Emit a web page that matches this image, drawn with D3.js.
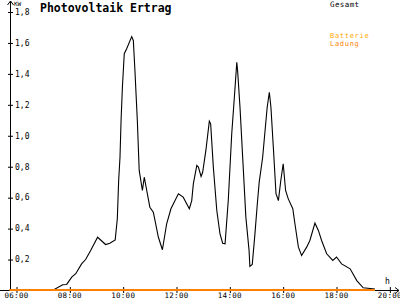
<!DOCTYPE html>
<html>
<head>
<meta charset="utf-8">
<script src="https://cdn.jsdelivr.net/npm/d3@7"></script>
<style>
  body { margin: 0; background: #fff; }
  svg { display: block; font-family: "DejaVu Sans Mono", monospace; }
</style>
</head>
<body>
<div id="chart"></div>
<script>
// Hours of the day (decimal) and total yield in kW
var hours = [5.75, 7.4, 7.75, 7.9, 8.09, 8.24, 8.46, 8.61, 8.8, 9.06, 9.36, 9.52, 9.72, 9.8, 9.85, 9.9, 9.94, 9.99,
  10.06, 10.15, 10.34, 10.4, 10.46, 10.55, 10.62, 10.74, 10.81, 10.88, 11.02, 11.15, 11.34, 11.49, 11.65, 11.81,
  12.09, 12.27, 12.5, 12.59, 12.65, 12.78, 12.84, 12.94, 13.0, 13.12, 13.25, 13.3, 13.4, 13.53, 13.65, 13.75, 13.84,
  13.96, 14.09, 14.18, 14.28, 14.31, 14.4, 14.52, 14.62, 14.74, 14.77, 14.86, 14.96, 15.05, 15.12, 15.25, 15.34,
  15.42, 15.5, 15.56, 15.65, 15.75, 15.84, 15.93, 16.02, 16.11, 16.21, 16.38, 16.46, 16.59, 16.71, 16.9, 17.02,
  17.21, 17.34, 17.46, 17.65, 17.88, 18.02, 18.21, 18.53, 18.78, 19.02, 19.46];
var gesamt = [0, 0, 0.034, 0.036, 0.083, 0.105, 0.169, 0.197, 0.255, 0.341, 0.294, 0.302, 0.324, 0.462, 0.708, 0.858, 1.096, 1.311,
  1.527, 1.559, 1.638, 1.613, 1.419, 1.096, 0.773, 0.643, 0.729, 0.664, 0.535, 0.503, 0.341, 0.26, 0.428, 0.525,
  0.622, 0.6, 0.525, 0.578, 0.686, 0.805, 0.794, 0.734, 0.761, 0.902, 1.091, 1.074, 0.794, 0.514, 0.363, 0.302, 0.299,
  0.578, 1.01, 1.225, 1.472, 1.419, 1.181, 0.794, 0.471, 0.255, 0.152, 0.165, 0.363, 0.557, 0.697, 0.858, 1.031,
  1.181, 1.278, 1.181, 0.923, 0.622, 0.578, 0.708, 0.816, 0.643, 0.589, 0.525, 0.428, 0.277, 0.223, 0.277, 0.32,
  0.432, 0.385, 0.32, 0.234, 0.191, 0.213, 0.169, 0.137, 0.061, 0.014, 0.006];

// Battery charge series (stays at zero)
var batterieHours = [5.75, 19.46];
var batterieLadung = [0, 0];

var xTicks = [6, 8, 10, 12, 14, 16, 18, 20];
var yTicks = [0.2, 0.4, 0.6, 0.8, 1.0, 1.2, 1.4, 1.6, 1.8];

var svgWidth = 400, svgHeight = 300;

var svg = d3.select("#chart")
  .append("svg")
  .attr("width", svgWidth)
  .attr("height", svgHeight);

var x = d3.scaleLinear().domain([6, 20]).range([16, 389.33]);
var y = d3.scaleLinear().domain([0, 1.8]).range([290, 11.5]);

// axis lines with arrows
svg.append("path")
  .attr("d", "M0,290.5H399 M395,287.5L399,290.5L395,293.5")
  .attr("fill", "none")
  .attr("stroke", "#000");
svg.append("path")
  .attr("d", "M10.5,291V1 M7.5,5L10.5,1L13.5,5")
  .attr("fill", "none")
  .attr("stroke", "#000");

// x ticks
var xAxis = svg.append("g")
  .attr("transform", "translate(0,290)")
  .call(d3.axisBottom(x).tickValues(xTicks).tickFormat(d => d3.format("02d")(d) + ":00"));
xAxis.select(".domain").remove();
xAxis.selectAll("line").attr("y1", -3).attr("y2", 3).attr("stroke", "#000").attr("transform", "translate(0.5,0)");
xAxis.selectAll("text")
  .attr("y", 7.8)
  .attr("dy", 0)
  .attr("font-size", 7.5)
  .attr("letter-spacing", 0.3)
  .attr("font-family", "DejaVu Sans Mono")
  .attr("fill", "#000");

// y ticks
var yAxis = svg.append("g")
  .attr("transform", "translate(10,0)")
  .call(d3.axisLeft(y).tickValues(yTicks).tickFormat(d => d3.format(".1f")(d).replace(".", ",")));
yAxis.select(".domain").remove();
yAxis.selectAll("line").attr("x1", -2).attr("x2", 3).attr("stroke", "#000").attr("transform", "translate(0,0.5)");
yAxis.selectAll("text")
  .attr("x", 5)
  .attr("dy", "0.35em")
  .attr("text-anchor", "start")
  .attr("font-size", 8)
  .attr("font-family", "DejaVu Sans Mono")
  .attr("fill", "#000");

// unit labels
svg.append("text").attr("x", 14).attr("y", 6).attr("font-size", 6).text("KW");
svg.append("text").attr("x", 385).attr("y", 284).attr("font-size", 8).text("h");

// title
svg.append("text")
  .attr("x", 40).attr("y", 11.5)
  .attr("font-size", 11.5)
  .attr("font-weight", "bold")
  .text("Photovoltaik Ertrag");

// legend
svg.append("text").attr("x", 330).attr("y", 7).attr("font-size", 7.5)
  .attr("letter-spacing", 0.4).attr("fill", "#000").text("Gesamt");
svg.append("text").attr("x", 330).attr("y", 37.5).attr("font-size", 7)
  .attr("letter-spacing", 0.7).attr("fill", "#ffa800").text("Batterie");
svg.append("text").attr("x", 330).attr("y", 46).attr("font-size", 7)
  .attr("letter-spacing", 0.7).attr("fill", "#ff8000").text("Ladung");

// total yield line
var line = d3.line()
  .x((d, i) => x(hours[i]))
  .y(d => y(d));

svg.append("path")
  .datum(gesamt)
  .attr("d", line)
  .attr("fill", "none")
  .attr("stroke", "#000")
  .attr("stroke-width", 1.1);

// battery line
var batLine = d3.line()
  .x((d, i) => x(batterieHours[i]))
  .y(d => y(d));

svg.append("path")
  .datum(batterieLadung)
  .attr("d", batLine)
  .attr("fill", "none")
  .attr("stroke", "#ff8000")
  .attr("stroke-width", 2);
</script>
</body>
</html>
